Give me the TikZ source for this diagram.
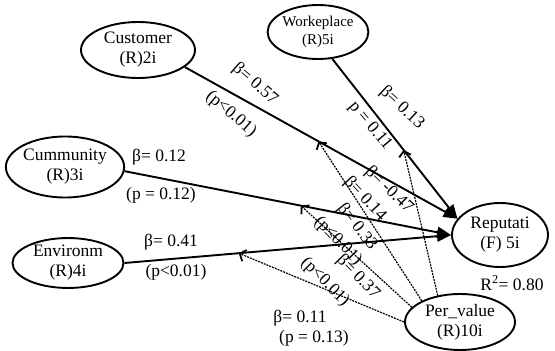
\documentclass[tikz,border=0pt]{standalone}
\usepackage{fontspec}
\setmainfont{Liberation Serif}
\usetikzlibrary{shapes.geometric,arrows.meta}
\begin{document}
\begin{tikzpicture}[x=1pt,y=-1pt,
  construct/.style={ellipse,draw,line width=1.9pt,inner sep=0pt,align=center,font=\fontsize{17.5}{20}\selectfont},
  pathline/.style={line width=1.9pt,-{Triangle[length=14pt,width=11pt]}},
  medline/.style={line width=1.2pt,dash pattern=on 2pt off 1pt,-{Straight Barb[length=5pt,width=12pt,line width=1.8pt]}},
  lab/.style={inner sep=0pt,font=\fontsize{17.5}{20}\selectfont}]
\useasboundingbox (0,0) rectangle (555,351);
% constructs
\node[construct,minimum width=114pt,minimum height=56pt] (cust) at (138,50) {Customer\\(R)2i};
\node[construct,minimum width=100pt,minimum height=54pt,font=\fontsize{15}{18}\selectfont] (work) at (318,32) {Workeplace\\(R)5i};
\node[construct,minimum width=104pt,minimum height=61pt] (comm) at (65,167) {Cummunity\\(R)3i};
\node[construct,minimum width=111pt,minimum height=47pt] (env) at (68,263) {Environm\\(R)4i};
\node[construct,minimum width=96pt,minimum height=64pt] (rep) at (500,235) {Reputati\\(F) 5i};
\node[construct,minimum width=110pt,minimum height=56pt] (per) at (460,322) {Per\_value\\(R)10i};
% direct paths
\draw[pathline] (cust.340) -- coordinate[pos=0.49] (m1) (rep.159);
\draw[pathline] (work.298) -- coordinate[pos=0.57] (m2) (rep.159);
\draw[pathline] (comm.356) -- coordinate[pos=0.54] (m3) (rep.west);
\draw[pathline] (env.east) -- coordinate[pos=0.35] (m4) (rep.west);
% moderating paths
\draw[medline] (per.151) -- (m1);
\draw[medline] (per.130) -- (m2);
\draw[medline] (per.163) -- (m3);
\draw[medline] (per.180) -- (m4);
% labels
\node[lab,rotate=-41] (l1) at (255,84) {β= 0.57};
\node[lab,rotate=-41] (l2) at (231,114) {(p<0.01)};
\node[lab,rotate=-43] (l3) at (402,108) {β= 0.13};
\node[lab,rotate=-50] (l4) at (370,126) {p = 0.11};
\node[lab] (l5) at (159,157) {β= 0.12};
\node[lab] (l6) at (161,195) {(p = 0.12)};
\node[lab] (l7) at (171,242) {β= 0.41};
\node[lab] (l8) at (176,272) {(p<0.01)};
\node[lab,rotate=-44] (l9) at (389,190) {β= -0.47};
\node[lab,rotate=-47] (l10) at (365,199) {β= 0.14};
\node[lab,rotate=-52] (l11) at (357,227) {β= 0.33};
\node[lab,rotate=-46] (l12) at (338,241) {(p≤0.01)};
\node[lab,rotate=-46] (l13) at (358,277) {β= 0.37};
\node[lab,rotate=-45] (l14) at (325,282) {(p<0.01)};
\node[lab] (l15) at (300,318) {β= 0.11};
\node[lab] (l16) at (314,338) {(p = 0.13)};
\node[lab] (l17) at (512,283) {R\textsuperscript{2}= 0.80};
\end{tikzpicture}
\end{document}
